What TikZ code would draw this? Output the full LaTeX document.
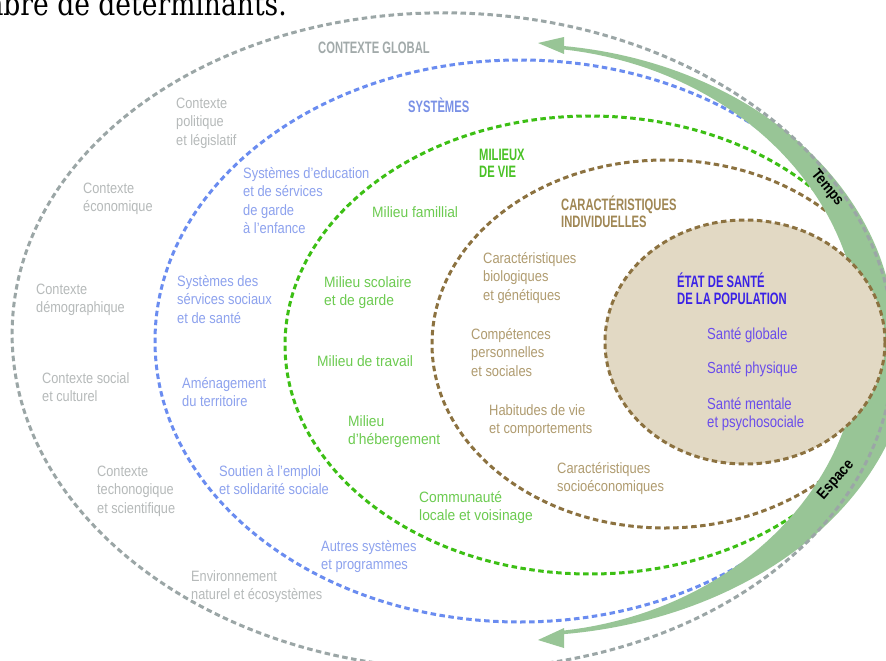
\documentclass[tikz,border=0pt]{standalone}
\usepackage{fontspec}
\setmainfont{Liberation Sans}
\newfontfamily\fgray[FakeStretch=0.85]{Liberation Sans}
\newfontfamily\fblue[FakeStretch=0.86]{Liberation Sans}
\newfontfamily\fgreen[FakeStretch=0.92]{Liberation Sans}
\newfontfamily\fbrown[FakeStretch=0.86]{Liberation Sans}
\newfontfamily\fpurple[FakeStretch=0.82]{Liberation Sans}
\newfontfamily\fhead[FakeStretch=0.68]{Liberation Sans}
\newfontfamily\fband[FakeStretch=0.86]{Liberation Sans}
\newfontfamily\fserif[FakeStretch=0.83]{DejaVu Serif}
\definecolor{lgray}{HTML}{9BA6A6}
\definecolor{tgray}{HTML}{B6BABA}
\definecolor{hgray}{HTML}{A2AAAA}
\definecolor{lblue}{HTML}{6A8CF0}
\definecolor{tblue}{HTML}{8DA2EE}
\definecolor{hblue}{HTML}{7A91E6}
\definecolor{lgreen}{HTML}{3CBF14}
\definecolor{tgreen}{HTML}{6CCB50}
\definecolor{hgreen}{HTML}{4AC226}
\definecolor{lbrown}{HTML}{8C7240}
\definecolor{tbrown}{HTML}{B09C70}
\definecolor{hbrown}{HTML}{A08754}
\definecolor{beige}{HTML}{E2D9C4}
\definecolor{hpurple}{HTML}{3A22E6}
\definecolor{tpurple}{HTML}{6A4DEB}
\definecolor{bandgreen}{HTML}{98C596}
\tikzset{
  ring/.style={line width=3pt, dash pattern=on 5.5pt off 3.5pt},
  lbl/.style={anchor=base west, align=left, inner sep=0pt},
  graytxt/.style={lbl, text=tgray, font=\fgray\fontsize{15}{18.5}\selectfont},
  bluetxt/.style={lbl, text=tblue, font=\fblue\fontsize{15}{18.5}\selectfont},
  greentxt/.style={lbl, text=tgreen, font=\fgreen\fontsize{15}{18.5}\selectfont},
  browntxt/.style={lbl, text=tbrown, font=\fbrown\fontsize{15}{18.5}\selectfont},
  purpletxt/.style={lbl, text=tpurple, font=\fpurple\fontsize{16}{18.5}\selectfont},
  head/.style={lbl, font=\fhead\bfseries\fontsize{16.5}{17}\selectfont},
  bandtxt/.style={inner sep=0pt, text=black, font=\fband\bfseries\fontsize{15.5}{15.5}\selectfont},
  band/.style={fill=bandgreen}
}
\begin{document}
\begin{tikzpicture}[x=1pt,y=-1pt]
\useasboundingbox (0,0) rectangle (886,661);
\clip (0,0) rectangle (886,661);
\fill[white] (0,0) rectangle (886,661);
% top text (cropped)
\node[anchor=base east, inner sep=0pt, font=\fserif\fontsize{32}{36}\selectfont] (intro) at (287,16) {nombre de déterminants.};
% rings
\draw[ring, lblue] (520,341) ellipse [x radius=365, y radius=281];
\draw[ring, lgreen] (590,345) ellipse [x radius=305, y radius=229];
\draw[ring, lbrown] (665,344) ellipse [x radius=233, y radius=184];
% time/space band
\fill[band] plot[domain=-83.4:0, samples=60] ({520+375*cos(\x)},{340+296*sin(\x)})
  -- plot[domain=0:83.7, samples=60] ({520+392*cos(\x)},{340+296*sin(\x)})
  -- plot[domain=82.7:-82.7, samples=90] ({520+340*cos(\x)},{340+293*sin(\x)}) -- cycle;
\fill[band] (538,43) -- (564,37) -- (564,54) -- cycle;
\fill[band] (538,640) -- (564,628) -- (564,648) -- cycle;
\draw[ring, lgray, rotate around={-2:(453,341)}] (453,341) ellipse [x radius=441, y radius=328];
% population
\draw[ring, lbrown, fill=beige] (745,342) ellipse [x radius=140, y radius=122];
% headings
\node[head, text=hgray] (hctx) at (318,54) {CONTEXTE GLOBAL};
\node[head, text=hblue] (hsys) at (408,112) {SYSTÈMES};
\node[head, text=hgreen] (hmil) at (479,177) {MILIEUX\\DE VIE};
\node[head, text=hbrown] (hcar) at (561,227) {CARACTÉRISTIQUES\\INDIVIDUELLES};
\node[head, text=hpurple] (hpop) at (677,304) {ÉTAT DE SANTÉ\\DE LA POPULATION};
% gray
\node[graytxt] (g1) at (176,145) {Contexte\\politique\\et législatif};
\node[graytxt] (g2) at (83,211.5) {Contexte\\économique};
\node[graytxt] (g3) at (36,312.5) {Contexte\\démographique};
\node[graytxt] (g4) at (42,401.5) {Contexte social\\et culturel};
\node[graytxt] (g5) at (97,513) {Contexte\\techonogique\\et scientifique};
\node[graytxt] (g6) at (191,599.5) {Environnement\\naturel et écosystèmes};
% blue
\node[bluetxt] (b1) at (243,233.5) {Systèmes d’education\\et de sérvices\\de garde\\à l’enfance};
\node[bluetxt] (b2) at (177,323) {Systèmes des\\sérvices sociaux\\et de santé};
\node[bluetxt] (b3) at (182,406.5) {Aménagement\\du territoire};
\node[bluetxt] (b4) at (219,494.5) {Soutien à l’emploi\\et solidarité sociale};
\node[bluetxt] (b5) at (321,569.5) {Autres systèmes\\et programmes};
% green
\node[greentxt] (v1) at (372,217) {Milieu famillial};
\node[greentxt] (v2) at (324,305.5) {Milieu scolaire\\et de garde};
\node[greentxt] (v3) at (317,366) {Milieu de travail};
\node[greentxt] (v4) at (348,444.5) {Milieu\\d’hébergement};
\node[greentxt] (v5) at (419,520.5) {Communauté\\locale et voisinage};
% brown
\node[browntxt] (c1) at (483,300) {Caractéristiques\\biologiques\\et génétiques};
\node[browntxt] (c2) at (471,376) {Compétences\\personnelles\\et sociales};
\node[browntxt] (c3) at (489,433.5) {Habitudes de vie\\et comportements};
\node[browntxt] (c4) at (557,491.5) {Caractéristiques\\socioéconomiques};
% purple
\node[purpletxt] (p1) at (707,339) {Santé globale};
\node[purpletxt] (p2) at (707,373) {Santé physique};
\node[purpletxt] (p3) at (707,427.5) {Santé mentale\\et psychosociale};
% band labels
\node[bandtxt, rotate=-51] (temps) at (827,188) {Temps};
\node[bandtxt, rotate=49] (espace) at (836,480) {Espace};
\end{tikzpicture}
\end{document}
